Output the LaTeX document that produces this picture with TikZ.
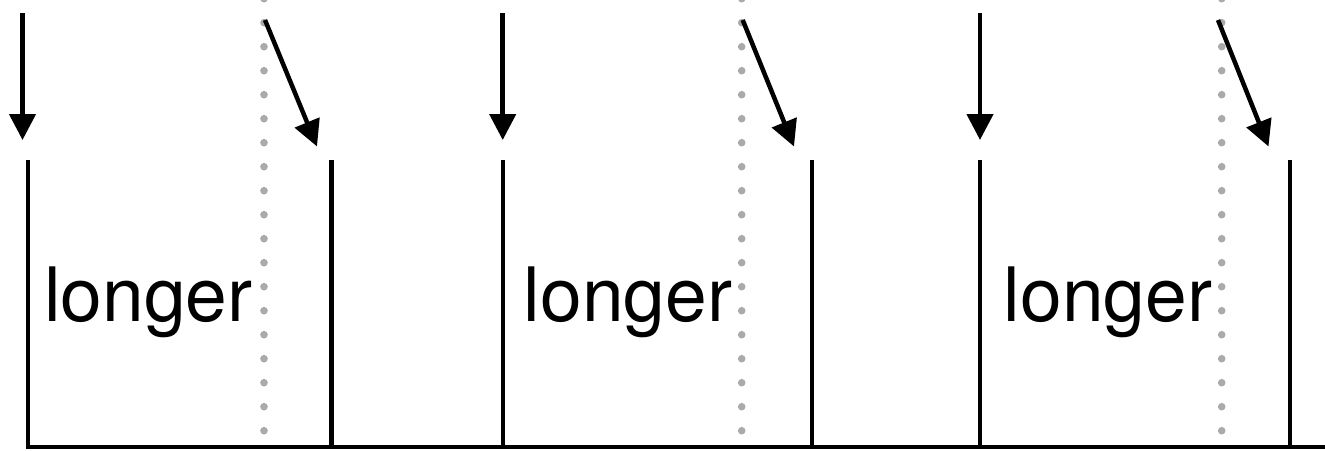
\documentclass[tikz,border=0pt]{standalone}
\usepackage{fontspec}
\setmainfont{TeX Gyre Heros}
\usetikzlibrary{arrows.meta}
\definecolor{dotgray}{HTML}{A9ABAB}
\tikzset{
  wall/.style={line width=4.5pt, draw=black, line join=miter},
  drop/.style={line width=4.5pt, draw=black, -{Triangle[length=26pt,width=26pt]}},
  gdot/.style={fill=dotgray, draw=none},
  lbl/.style={inner sep=0pt, anchor=base west, font=\fontsize{75}{82}\selectfont}
}
\begin{document}
\begin{tikzpicture}[x=1pt,y=-1pt]
\useasboundingbox (0,0) rectangle (1325,450);
% panel data: left arrow x, wall left x, dotted x, slant start x, slant tip x, right wall x, text x
\foreach \i/\la/\lw/\dx/\ss/\st/\rw/\tx in {
  1/22.5/28/264/265/317/331.5/44,
  2/502.7/503/741.7/742.7/794/812/523.5,
  3/980/980/1221.7/1218/1268.5/1290/1003.5}{
  % dotted line
  \foreach \k in {-1,...,17}{
    \fill[gdot] (\dx, 22.7+24*\k) circle (3.8pt);
  }
  % arrows
  \coordinate (a\i s) at (\la,13);
  \coordinate (a\i e) at (\la,140);
  \draw[drop] (a\i s) -- (a\i e);
  \coordinate (b\i s) at (\ss,20);
  \coordinate (b\i e) at (\st,146.5);
  \draw[drop] (b\i s) -- (b\i e);
  % right wall
  \coordinate (r\i t) at (\rw,160);
  \coordinate (r\i b) at (\rw,447);
  \draw[wall] (r\i t) -- (r\i b);
  % label
  \node[lbl] (t\i) at (\tx,321.7) {longer};
}
% left walls and floor
\coordinate (w1t) at (28,160);
\coordinate (w1b) at (28,447);
\coordinate (fe) at (1325,447);
\draw[wall] (w1t) -- (w1b) -- (fe);
\coordinate (w2t) at (503,160);
\coordinate (w2b) at (503,447);
\draw[wall] (w2t) -- (w2b);
\coordinate (w3t) at (980,160);
\coordinate (w3b) at (980,447);
\draw[wall] (w3t) -- (w3b);
\end{tikzpicture}
\end{document}
